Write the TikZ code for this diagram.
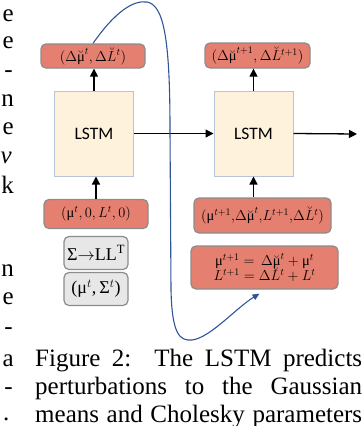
\documentclass[tikz,border=0pt]{standalone}
\usepackage{fontspec}
\setmainfont{Liberation Serif}
\newfontfamily\lstmfont{Carlito}
\usetikzlibrary{arrows.meta,calc}
\definecolor{boxred}{RGB}{229,128,112}
\definecolor{boxedge}{RGB}{140,140,140}
\definecolor{lstmfill}{RGB}{255,242,220}
\definecolor{lstmedge}{RGB}{184,196,216}
\definecolor{grayfill}{RGB}{231,231,231}
\definecolor{curveblue}{RGB}{47,85,151}
\newcommand{\umu}{\mbox{μ}}
\newcommand{\bmu}{\breve{\mbox{μ}}}
\begin{document}
\begin{tikzpicture}[x=1pt,y=-1pt,
  redbox/.style={draw=boxedge,line width=1.3pt,fill=boxred,rounded corners=5pt,inner sep=0pt,font=\fontsize{14.5}{17}\selectfont},
  lstmbox/.style={draw=lstmedge,line width=1pt,fill=lstmfill,minimum width=79pt,minimum height=85pt,inner sep=0pt,font=\lstmfont\fontsize{17.5}{20}\selectfont},
  graybox/.style={draw=boxedge,line width=1.2pt,fill=grayfill,rounded corners=5pt,minimum width=64pt,minimum height=33pt,inner sep=0pt,font=\fontsize{18}{21}\selectfont},
  arr/.style={line width=1.3pt,-{Triangle[length=8pt,width=8pt]}},
  bluecurve/.style={draw=curveblue,line width=1.1pt,-{Triangle[length=7pt,width=6pt]}},
  frag/.style={anchor=base east,inner sep=0pt,font=\fontsize{25}{29}\selectfont},
  capline/.style={anchor=base west,inner sep=0pt,font=\fontsize{25}{29}\selectfont}]
\useasboundingbox (0,0) rectangle (364,426);
\clip (0,0) rectangle (364,426);

% left column fragments
\node[frag] (f1) at (14,21) {e};
\node[frag] (f2) at (14,48) {e};
\node[frag] (f3) at (13,77) {-};
\node[frag] (f4) at (14,106) {n};
\node[frag] (f5) at (14,134) {e};
\node[frag] (f6) at (12,163) {\textit{v}};
\node[frag] (f7) at (14,193) {k};
\node[frag] (f8) at (14,276) {n};
\node[frag] (f9) at (14,304) {e};
\node[frag] (f10) at (13,334) {-};
\node[frag] (f11) at (14,366) {a};
\node[frag] (f12) at (13,394) {-};
\node[anchor=base west,inner sep=0pt,font=\fontsize{25}{29}\selectfont] (f13) at (3,420) {.};

% left column of the diagram
\node[redbox,minimum width=104pt,minimum height=24pt] (out1) at (93,56) {$(\Delta\bmu^{t},\Delta\breve{L}^{t})$};
\node[lstmbox] (lstm1) at (94,133.5) {LSTM};
\node[redbox,minimum width=104pt,minimum height=29pt] (in1) at (96,214) {$(\umu^{t},0,L^{t},0)$};
\node[graybox] (sig) at (96,253) {Σ$\rightarrow$LL$^{\mathrm{T}}$};
\node[graybox] (mus) at (96,289) {(μ$^{t}$,\,Σ$^{t}$)};

% right column
\node[redbox,minimum width=105pt,minimum height=25pt] (out2) at (257.5,55.5) {$(\Delta\bmu^{t+1},\Delta\breve{L}^{t+1})$};
\node[lstmbox] (lstm2) at (253.5,133.5) {LSTM};
\node[redbox,minimum width=137pt,minimum height=35pt] (in2) at (262.5,215.5) {$(\umu^{t+1}{,}\Delta\bmu^{t}{,}L^{t+1}{,}\Delta\breve{L}^{t})$};
\node[redbox,minimum width=147pt,minimum height=43pt,align=center] (upd) at (264.5,267.5) {$\umu^{t+1}=\,\Delta\bmu^{t}+\umu^{t}$\\[-2pt]$L^{t+1}=\Delta\breve{L}^{t}+L^{t}$};
\coordinate (endc) at (357,134);

% arrows
\draw[arr] (in1.north) -- (in1.north |- lstm1.south);
\draw[arr] (lstm1.north) -- (lstm1.north |- out1.south);
\draw[arr] (lstm2.south |- in2.north) -- (lstm2.south);
\draw[arr] (lstm2.north) -- (lstm2.north |- out2.south);
\draw[arr] (lstm1.east) -- (lstm2.west);
\draw[arr] (lstm2.east) -- (endc);

% blue curve
\draw[bluecurve] (out1.north) .. controls (115,12) and (133,0) .. (147,2)
  .. controls (164,5) and (170,40) .. (170,130)
  -- (171,290) .. controls (172,335) and (180,341) .. (192,340)
  .. controls (210,338) and (236,308) .. ($(upd.south)+(-5,4)$);

% caption
\node[capline] (cap1) at (35,366) {\makebox[327pt][s]{Figure 2:\ \ The LSTM predicts}};
\node[capline] (cap2) at (35,394) {\makebox[327pt][s]{perturbations to the Gaussian}};
\node[capline] (cap3) at (35,422) {\makebox[327pt][s]{means and Cholesky parameters}};
\end{tikzpicture}
\end{document}
